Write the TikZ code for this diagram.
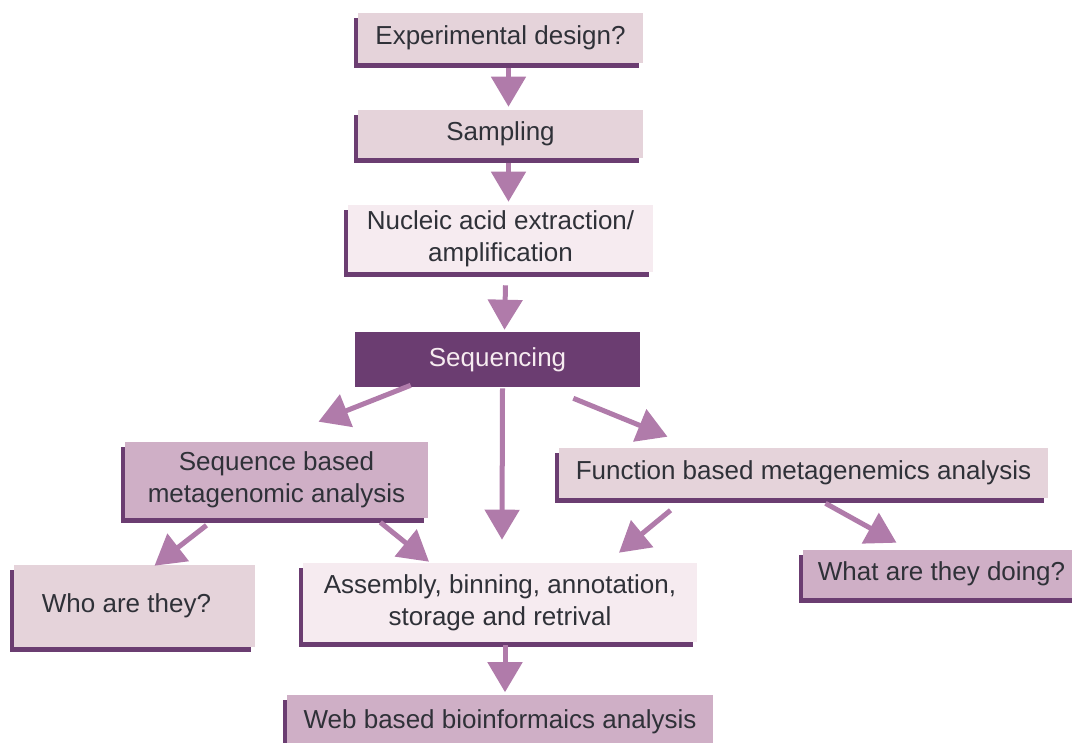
\documentclass[tikz,border=0pt]{standalone}
\usepackage{fontspec}
\setmainfont{Liberation Sans}
\usetikzlibrary{arrows.meta,shadows,calc}

\definecolor{plum}{HTML}{6B3D71}
\definecolor{flowpink}{HTML}{B07BAA}
\definecolor{palepink}{HTML}{E5D3DA}
\definecolor{mistpink}{HTML}{F6EBF0}
\definecolor{mauve}{HTML}{CFAFC6}
\definecolor{inktext}{HTML}{2F3138}

\tikzset{
  plain box/.style={inner sep=0pt, align=center, text=inktext,
    font=\fontsize{18.5}{22.7}\selectfont},
  step box/.style={plain box,
    drop shadow={shadow xshift=-0.1cm, shadow yshift=-0.125cm, opacity=1, fill=plum}},
  pale/.style={step box, fill=palepink},
  mist/.style={step box, fill=mistpink},
  mid/.style={step box, fill=mauve},
  flow/.style={flowpink, line width=0.125cm, -{Triangle[width=0.85cm,length=0.75cm]}}
}

\begin{document}
\begin{tikzpicture}[x=0.025cm, y=-0.025cm]
        \useasboundingbox (0,0) rectangle (1072,743);

        % main pipeline
        \node[pale, minimum width=7.125cm, minimum height=1.25cm] (exp) at (500.5,38) {Experimental design?};
        \node[pale, minimum width=7.125cm, minimum height=1.2cm] (samp) at (500.5,134) {Sampling};
        \node[mist, minimum width=7.625cm, minimum height=1.675cm] (nuc) at (500.5,238.5) {Nucleic acid extraction/\\amplification};
        \node[plain box, fill=plum, text=mistpink, minimum width=7.125cm, minimum height=1.375cm] (seq) at (497.5,359.5) {Sequencing};

        % analysis branches
        \node[mid, minimum width=7.575cm, minimum height=1.9cm] (sbased) at (276.5,480) {Sequence based\\metagenomic analysis};
        \node[pale, minimum width=12.225cm, minimum height=1.25cm] (fbased) at (803.5,473) {Function based metagenemics analysis};
        \node[pale, minimum width=6.025cm, minimum height=2.05cm] (who) at (134.5,606) {Who are they?\hspace{0.4cm}};
        \node[mist, minimum width=9.85cm, minimum height=1.975cm] (asm) at (500,602.5) {Assembly, binning, annotation,\\storage and retrival};
        \node[mid, minimum width=6.925cm, minimum height=1.2cm] (what) at (941.5,574) {What are they doing?};
        \node[mid, minimum width=10.65cm, minimum height=1.375cm] (web) at (500,722) {Web based bioinformaics analysis};

        % arrows
        \draw[flow] ($(exp.south)+(8,5)$) -- ($(samp.north)+(8,-3)$);
        \draw[flow] ($(samp.south)+(8,5)$) -- ($(nuc.north)+(8,-3)$);
        \draw[flow] ($(nuc.south)+(5,13)$) -- ($(seq.north)+(7,-2)$);
        \draw[flow] ($(seq.south west)+(56,-2)$) -- ($(sbased.north)+(42,-20)$);
        \draw[flow] ($(seq.south)+(5,1)$) -- ($(asm.north)+(2,-23)$);
        \draw[flow] ($(seq.south east)+(-67,11)$) -- ($(fbased.north)+(-136,-11)$);
        \draw[flow] ($(sbased.south)+(-70,7)$) -- ($(who.north)+(20,1)$);
        \draw[flow] ($(sbased.south east)+(-48,4)$) -- ($(asm.north)+(-71,-1)$);
        \draw[flow] ($(fbased.south)+(-133,12)$) -- ($(asm.north)+(119,-10)$);
        \draw[flow] ($(fbased.south)+(22,5)$) -- ($(what.north)+(-45,-7)$);
        \draw[flow] ($(asm.south)+(5,3)$) -- ($(web.north)+(5,-2)$);

\end{tikzpicture}
\end{document}
